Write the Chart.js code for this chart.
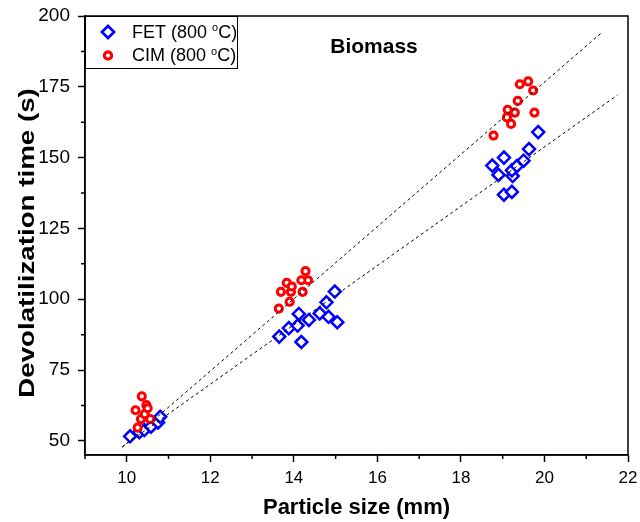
<!DOCTYPE html>
<html>
<head>
<meta charset="utf-8">
<script src="https://cdn.jsdelivr.net/npm/chart.js@4/dist/chart.umd.min.js"></script>
<style>
  html, body { margin: 0; padding: 0; background: #fff; }
</style>
</head>
<body>
<canvas id="c" width="640" height="522"></canvas>
<script>
// Devolatilization time versus particle size, biomass at 800 °C
const chartTitle = 'Biomass';
const xTitle = 'Particle size (mm)';
const yTitle = 'Devolatilization time (s)';

const fetLabel = 'FET (800 °C)';
const fetX = [10.08, 10.30, 10.42, 10.58, 10.75, 10.80,
              13.65, 13.88, 14.09, 14.12, 14.18, 14.36, 14.62, 14.78, 14.83, 14.98, 15.04,
              18.75, 18.90, 19.03, 19.03, 19.22, 19.24, 19.22, 19.34, 19.50, 19.63, 19.85];
const fetY = [51.6, 53.0, 53.8, 55.0, 56.5, 58.5,
              86.8, 89.8, 90.7, 94.8, 84.9, 92.7, 95.0, 98.9, 93.8, 102.7, 91.9,
              147.2, 143.9, 150.0, 136.9, 137.9, 143.5, 145.5, 147.0, 148.9, 153.0, 159.0];

const cimLabel = 'CIM (800 °C)';
const cimX = [10.36, 10.47, 10.21, 10.34, 10.56, 10.26, 10.43, 10.50,
              14.28, 14.34, 14.18, 13.83, 13.69, 13.93, 14.21, 13.90, 13.64, 13.95,
              19.41, 19.61, 19.73, 19.36, 19.12, 19.29, 19.10, 19.20, 19.76, 18.78];
const cimY = [65.7, 62.6, 60.8, 57.7, 57.7, 54.7, 59.4, 61.5,
              109.9, 106.7, 106.7, 105.8, 102.6, 102.6, 102.6, 99.1, 96.7, 104.5,
              175.9, 176.9, 173.7, 170.0, 166.9, 165.9, 164.2, 161.9, 165.9, 157.8];

// Linear trend lines (end points)
const cimFitX = [9.88, 21.40];
const cimFitY = [47.6, 194.5];
const fetFitX = [9.90, 21.75];
const fetFitY = [48.0, 172.1];

// Axis ticks
const xMajorTicks = [10, 12, 14, 16, 18, 20, 22];
const xMinorTicks = [9, 11, 13, 15, 17, 19, 21];
const yMajorTicks = [50, 75, 100, 125, 150, 175, 200];
const yMinorTicks = [62.5, 87.5, 112.5, 137.5, 162.5, 187.5];

const BLUE = '#0000ff';
const RED = '#ff0000';
const FONT = '"Liberation Sans", Arial, Helvetica, sans-serif';

const pts = (xs, ys) => xs.map((x, i) => ({ x, y: ys[i] }));

// Minor ticks, plot frame, titles and boxed legend
const decorations = {
  id: 'decorations',
  afterDatasetsDraw(chart) {
    const { ctx, chartArea: a, scales: { x, y } } = chart;
    ctx.save();
    ctx.strokeStyle = '#000';
    ctx.lineWidth = 1.5;
    ctx.beginPath();
    xMinorTicks.forEach(v => {
      const px = x.getPixelForValue(v);
      ctx.moveTo(px, a.bottom); ctx.lineTo(px, a.bottom + 4);
    });
    yMinorTicks.forEach(v => {
      const py = y.getPixelForValue(v);
      ctx.moveTo(a.left, py); ctx.lineTo(a.left - 4, py);
    });
    ctx.stroke();
    ctx.strokeRect(a.left, a.top, a.right - a.left, a.bottom - a.top);

    // title inside the plot
    ctx.fillStyle = '#000';
    ctx.font = 'bold 21px ' + FONT;
    ctx.textAlign = 'center';
    ctx.textBaseline = 'middle';
    ctx.fillText(chartTitle, 374, 47);

    // vertical axis title, drawn a little stretched along its length
    ctx.save();
    ctx.translate(28, 243);
    ctx.rotate(-Math.PI / 2);
    ctx.scale(1.26, 1);
    ctx.font = 'bold 22px ' + FONT;
    ctx.fillText(yTitle, 0, 0);
    ctx.restore();

    // legend box
    const lx = a.left, ly = a.top, lw = 153, lh = 53;
    ctx.fillStyle = '#fff';
    ctx.fillRect(lx, ly, lw, lh);
    ctx.lineWidth = 1;
    ctx.strokeRect(lx + 0.5, ly + 0.5, lw - 1, lh - 1);
    const items = [chart.data.datasets[1], chart.data.datasets[0]];
    items.forEach((ds, i) => {
      const cy = ly + 16 + i * 23.5;
      ctx.lineWidth = ds.borderWidth;
      ctx.strokeStyle = ds.borderColor;
      ctx.fillStyle = '#fff';
      Chart.helpers.drawPoint(ctx, {
        pointStyle: ds.pointStyle, radius: ds.pointRadius, borderWidth: ds.borderWidth, rotation: 0
      }, lx + 23, cy);
      ctx.fill(); ctx.stroke();
      // label with a raised "o" for the degree sign
      const parts = ds.label.split('°');
      ctx.fillStyle = '#000';
      ctx.textAlign = 'left';
      ctx.textBaseline = 'middle';
      let tx = lx + 47;
      ctx.font = '18px ' + FONT;
      ctx.fillText(parts[0], tx, cy + 1);
      tx += ctx.measureText(parts[0]).width;
      ctx.font = '11px ' + FONT;
      ctx.fillText('o', tx, cy - 4);
      tx += ctx.measureText('o').width;
      ctx.font = '18px ' + FONT;
      ctx.fillText(parts[1], tx, cy + 1);
    });
    ctx.restore();
  }
};

new Chart(document.getElementById('c'), {
  type: 'scatter',
  data: {
    datasets: [
      { label: cimLabel, data: pts(cimX, cimY), order: 0,
        pointStyle: 'circle', pointRadius: 3.6, pointHoverRadius: 3.6,
        borderColor: RED, backgroundColor: '#fff', borderWidth: 3 },
      { label: fetLabel, data: pts(fetX, fetY), order: 1,
        pointStyle: 'rectRot', pointRadius: 6, pointHoverRadius: 6,
        borderColor: BLUE, backgroundColor: '#fff', borderWidth: 2.5 },
      { label: 'cim fit', type: 'line', data: pts(cimFitX, cimFitY), order: -1,
        borderColor: '#000', borderWidth: 1, borderDash: [3, 3], pointRadius: 0, fill: false },
      { label: 'fet fit', type: 'line', data: pts(fetFitX, fetFitY), order: -1,
        borderColor: '#000', borderWidth: 1, borderDash: [3, 3], pointRadius: 0, fill: false }
    ]
  },
  options: {
    responsive: false,
    devicePixelRatio: 1,
    animation: false,
    layout: { padding: { top: 16, right: 12, bottom: 0, left: 0 } },
    plugins: { legend: { display: false }, tooltip: { enabled: false } },
    scales: {
      x: {
        type: 'linear', min: 9, max: 22,
        afterBuildTicks: s => { s.ticks = xMajorTicks.map(v => ({ value: v })); },
        afterFit: s => { s.height = 67; s.paddingLeft = 0; s.paddingRight = 0; },
        grid: { drawOnChartArea: false, drawTicks: true, tickLength: 7, tickColor: '#000', tickWidth: 1.5 },
        border: { display: true, color: '#000', width: 1.5 },
        ticks: { color: '#000', font: { family: FONT, size: 17 }, padding: 6, maxRotation: 0 },
        title: { display: true, text: xTitle, color: '#000',
                 font: { family: FONT, size: 22, weight: 'bold' }, padding: { top: 0, bottom: 1 } }
      },
      y: {
        type: 'linear', min: 45, max: 200,
        afterBuildTicks: s => { s.ticks = yMajorTicks.map(v => ({ value: v })); },
        afterFit: s => { s.width = 85; s.paddingTop = 0; s.paddingBottom = 0; },
        grid: { drawOnChartArea: false, drawTicks: true, tickLength: 7, tickColor: '#000', tickWidth: 1.5 },
        border: { display: true, color: '#000', width: 1.5 },
        ticks: { color: '#000', font: { family: FONT, size: 19 }, padding: 8 },
        title: { display: false, text: yTitle }
      }
    }
  },
  plugins: [decorations]
});
</script>
</body>
</html>
